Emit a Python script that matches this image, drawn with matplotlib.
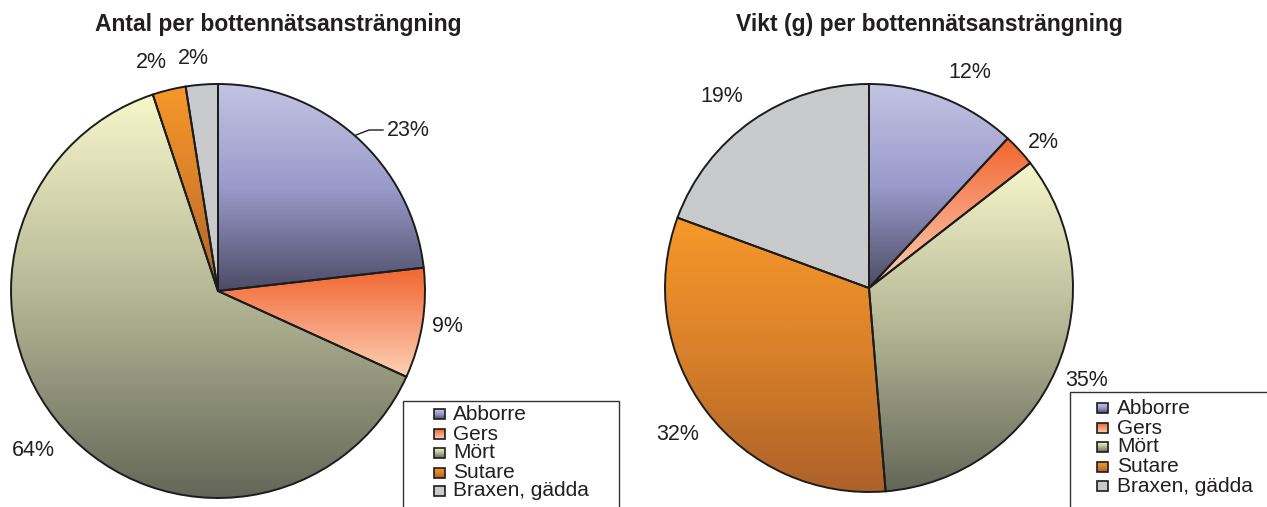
import numpy as np
import matplotlib
matplotlib.use("Agg")
import matplotlib.pyplot as plt
from matplotlib.patches import Rectangle
from matplotlib.colors import LinearSegmentedColormap

# ---------------- data ----------------
species = ["Abborre", "Gers", "Mört", "Sutare", "Braxen, gädda"]
antal_pct = [23.2, 8.6, 63.1, 2.6, 2.5]
vikt_pct = [11.9, 2.6, 34.2, 31.9, 19.4]
antal_labels = ["23%", "9%", "64%", "2%", "2%"]
vikt_labels = ["12%", "2%", "35%", "32%", "19%"]
title_left = "Antal per bottennätsansträngning"
title_right = "Vikt (g) per bottennätsansträngning"

# gradient stops (top -> bottom) per species
grad_colors = [
    ["#c3c3e3", "#9a9acb", "#4c4c66"],
    ["#f2662e", "#f79a76", "#fed2b4"],
    ["#f7f7cb", "#b4b795", "#646758"],
    ["#f8982a", "#d8802a", "#ad6229"],
    ["#c9cacc", "#c9cacc", "#c9cacc"],
]

W, H = 1267, 507
TXT = "#231f20"
EDGE = "#1c1c1c"
FONT = "Liberation Sans"

fig = plt.figure(figsize=(W / 100, H / 100), dpi=100)
ax = fig.add_axes([0, 0, 1, 1])


def Y(y):
    return H - y


def gradient_fill(ax, patch, colors, extent=None):
    cmap = LinearSegmentedColormap.from_list("g", colors)
    if extent is None:
        ext = patch.get_path().get_extents()
        extent = (ext.x0, ext.x1, ext.y0, ext.y1)
    grad = np.linspace(0, 1, 256).reshape(-1, 1)
    im = ax.imshow(grad, cmap=cmap, extent=extent, origin="upper",
                   aspect="auto", interpolation="bilinear", zorder=1)
    im.set_clip_path(patch)
    return im


def draw_pie(values, center, radius):
    wedges, _ = ax.pie(values, center=center, radius=radius, startangle=90,
                       counterclock=False,
                       wedgeprops=dict(edgecolor=EDGE, linewidth=1.4))
    for w, cols in zip(wedges, grad_colors):
        gradient_fill(ax, w, cols)
        w.set_facecolor("none")
        w.set_zorder(2)
    return wedges


draw_pie(antal_pct, (218, Y(291)), 207)
draw_pie(vikt_pct, (869, Y(288)), 204)

# percentage labels (layout positions)
left_pos = [(408, 130), (447, 326), (33, 451), (151, 62), (193, 58)]
right_pos = [(970, 72), (1043, 143), (1087, 380), (678, 435), (722, 96)]
for lab, (x, y) in zip(antal_labels, left_pos):
    ax.text(x, Y(y), lab, ha="center", va="center", fontsize=15.5,
            family=FONT, color=TXT, zorder=5)
for lab, (x, y) in zip(vikt_labels, right_pos):
    ax.text(x, Y(y), lab, ha="center", va="center", fontsize=15.5,
            family=FONT, color=TXT, zorder=5)

# leader line for 23%
ax.plot([383, 369, 356], [Y(130), Y(130), Y(135)], color=EDGE, lw=1.0, zorder=4)

# titles
ax.text(278, Y(25), title_left, ha="center", va="center", fontsize=16.5,
        fontweight="bold", family=FONT, color=TXT)
ax.text(929, Y(25), title_right, ha="center", va="center", fontsize=16.5,
        fontweight="bold", family=FONT, color=TXT)


# legends
def draw_legend(x0, y0, x1, sq_x, txt_x, rows_y):
    ax.add_patch(Rectangle((x0, Y(H + 20)), x1 - x0, (H + 20) - y0,
                           facecolor="white", edgecolor="#333333", lw=1.0,
                           zorder=3))
    for name, cols, ry in zip(species, grad_colors, rows_y):
        sq = Rectangle((sq_x, Y(ry + 5)), 11, 10, facecolor="none",
                       edgecolor=EDGE, lw=1.2, zorder=5)
        ax.add_patch(sq)
        im = gradient_fill(ax, sq, cols,
                           extent=(sq_x, sq_x + 11, Y(ry + 5), Y(ry - 5)))
        im.set_zorder(4)
        ax.text(txt_x, Y(ry), name, ha="left", va="center", fontsize=15,
                family=FONT, color=TXT, zorder=5)


draw_legend(403, 401, 619, 434, 453, [414, 434, 453, 473, 491])
draw_legend(1070, 392, 1290, 1097, 1117, [408, 428, 447, 467, 486])

ax.set_xlim(0, W)
ax.set_ylim(0, H)
ax.set_aspect("auto")
ax.axis("off")

fig.savefig("out.png", dpi=100)
